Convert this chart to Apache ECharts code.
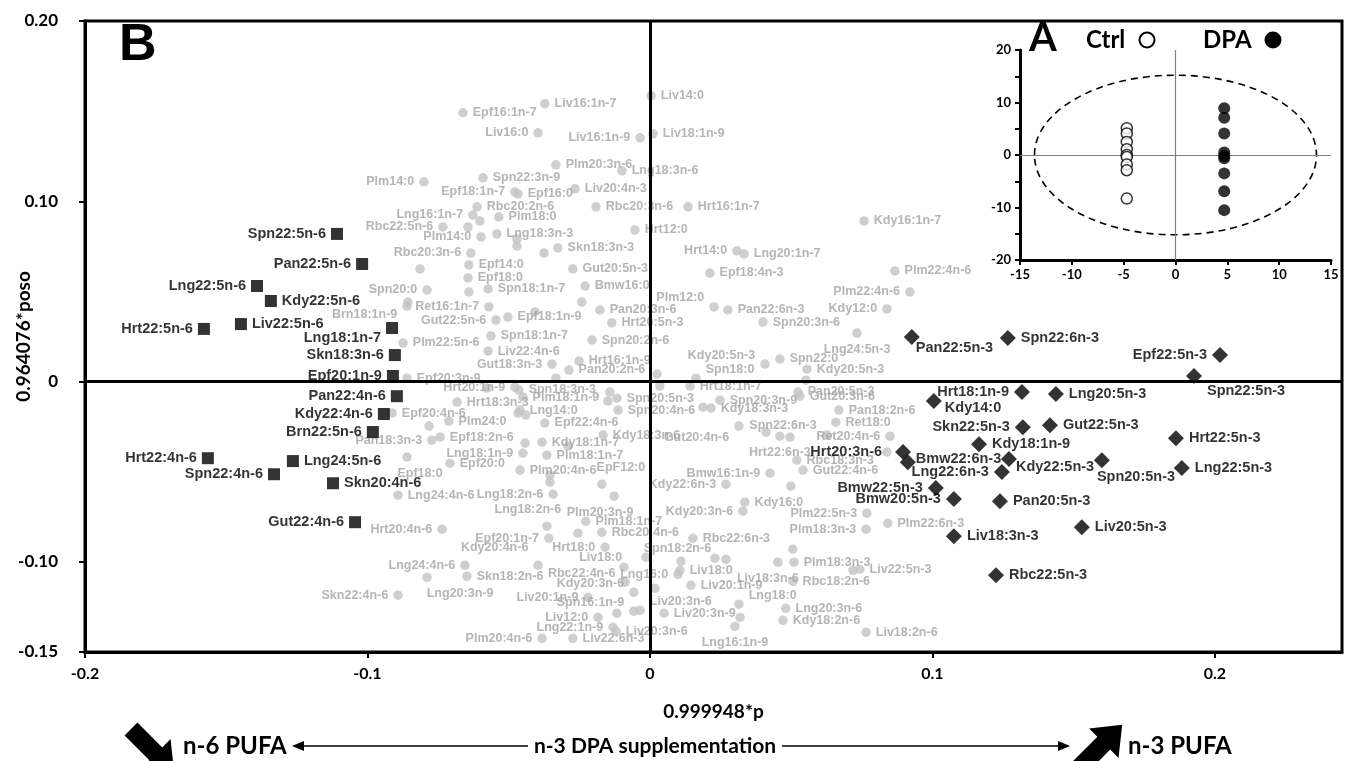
<!DOCTYPE html>
<html><head><meta charset="utf-8">
<script src="https://cdn.jsdelivr.net/npm/echarts@6/dist/echarts.min.js"></script>
<style>html,body{margin:0;padding:0;background:#fff}#c{width:1346px;height:761px}</style>
</head><body><div id="c"></div><script>
// ---------- main score/loading plot (B) ----------
const xTicks = [-0.2, -0.1, 0, 0.1, 0.2];
const xTickLabels = ['-0.2', '-0.1', '0', '0.1', '0.2'];
const yTicks = [-0.15, -0.1, 0, 0.1, 0.2];
const yTickLabels = ['-0.15', '-0.10', '0', '0.10', '0.20'];

// n-6 PUFA (squares)
const n6Names = ['Spn22:5n-6','Pan22:5n-6','Lng22:5n-6','Kdy22:5n-6','Hrt22:5n-6','Liv22:5n-6','Lng18:1n-7','Skn18:3n-6','Epf20:1n-9','Pan22:4n-6','Kdy22:4n-6','Brn22:5n-6','Hrt22:4n-6','Lng24:5n-6','Spn22:4n-6','Skn20:4n-6','Gut22:4n-6'];
const n6X = [-0.1108,-0.1019,-0.1391,-0.1342,-0.1579,-0.1448,-0.0913,-0.0903,-0.0910,-0.0896,-0.0942,-0.0981,-0.1565,-0.1264,-0.1331,-0.1122,-0.1044];
const n6Y = [0.0819,0.0652,0.0530,0.0447,0.0292,0.0319,0.0297,0.0147,0.0031,-0.0081,-0.0180,-0.0280,-0.0425,-0.0441,-0.0514,-0.0564,-0.0780];

// n-3 PUFA (diamonds)
const n3Names = ['Pan22:5n-3','Spn22:6n-3','Epf22:5n-3','Spn22:5n-3','Hrt18:1n-9','Lng20:5n-3','Kdy14:0','Skn22:5n-3','Gut22:5n-3','Hrt22:5n-3','Kdy18:1n-9','Hrt20:3n-6','Bmw22:6n-3','Kdy22:5n-3','Spn20:5n-3','Lng22:5n-3','Lng22:6n-3','Bmw22:5n-3','Bmw20:5n-3','Pan20:5n-3','Liv20:5n-3','Liv18:3n-3','Rbc22:5n-3'];
const n3X = [0.0927,0.1267,0.2018,0.1926,0.1317,0.1437,0.1005,0.1320,0.1416,0.1862,0.1165,0.0896,0.0913,0.1271,0.1600,0.1883,0.1246,0.1012,0.1076,0.1239,0.1529,0.1076,0.1225];
const n3Y = [0.0247,0.0242,0.0147,0.0031,-0.0058,-0.0069,-0.0108,-0.0253,-0.0242,-0.0314,-0.0347,-0.0391,-0.0447,-0.0430,-0.0436,-0.0480,-0.0502,-0.0591,-0.0652,-0.0664,-0.0808,-0.0858,-0.1074];

// other fatty acids (grey)
const grayNames = ['Liv14:0','Liv16:1n-7','Epf16:1n-7','Liv16:0','Liv16:1n-9','Liv18:1n-9','Plm20:3n-6','Lng18:3n-6','Plm14:0','Spn22:3n-9',
'Epf18:1n-7','Epf16:0','Liv20:4n-3','Rbc20:2n-6','Lng16:1n-7','','Plm18:0','Rbc20:3n-6','Rbc22:5n-6','',
'Plm14:0','Lng18:3n-3','','','Hrt12:0','Rbc20:3n-6','','Skn18:3n-3','Epf14:0','Gut20:5n-3',
'','Epf18:0','Spn20:0','Spn18:1n-7','Bmw16:0','','','Brn18:1n-9','Ret16:1n-7','',
'Pan20:3n-6','','Epf18:1n-9','Gut22:5n-6','Hrt20:5n-3','Spn18:1n-7','Plm22:5n-6','Spn20:2n-6','Liv22:4n-6','Hrt16:1n-9',
'Gut18:3n-3','Pan20:2n-6','','Epf20:3n-9','Hrt20:1n-9','','Spn18:3n-3','Hrt18:3n-3','Plm18:1n-9','Lng14:0',
'','','Spn20:5n-3','Spn20:4n-6','','','Epf20:4n-6','Plm24:0','','Epf22:4n-6',
'Epf18:2n-6','Pan18:3n-3','Kdy18:1n-7','Kdy18:3n-6','','','Lng18:1n-9','Plm18:1n-7','Epf18:0','Epf20:0',
'Plm20:4n-6','','','EpF12:0','Lng24:4n-6','Lng18:2n-6','Plm20:3n-9','Plm18:1n-7','Lng18:2n-6','Rbc20:4n-6',
'','Epf20:1n-7','Kdy20:4n-6','Hrt18:0','Hrt20:4n-6','Lng24:4n-6','Skn18:2n-6','Lng20:3n-9','Skn22:4n-6','Spn18:2n-6',
'Liv18:0','Rbc22:4n-6','Kdy20:3n-6','Lng16:0','Liv18:0','Liv20:1n-9','Spn16:1n-9','Liv20:3n-6','Liv12:0','Lng22:1n-9',
'Liv20:3n-6','Plm20:4n-6','Liv22:6n-3','Bmw16:1n-9','Gut22:4n-6','Rbc18:3n-3','Kdy22:6n-3','','Kdy16:0','Kdy20:3n-6',
'Plm22:5n-3','Plm22:6n-3','Plm18:3n-3','Rbc22:6n-3','','','','','Liv18:3n-6','Plm18:3n-3',
'Liv22:5n-3','','Rbc18:2n-6','','Liv20:1n-9','Lng18:0','Lng20:3n-6','Liv20:3n-9','','Kdy18:2n-6',
'Lng16:1n-9','Liv18:2n-6','Hrt18:1n-7','Spn20:3n-9','Kdy18:3n-3','','Gut20:4n-6','Spn22:6n-3','Hrt22:6n-3','',
'Pan18:2n-6','Ret18:0','','Ret20:4n-6','','Pan20:5n-3','Gut20:3n-6','Kdy20:5n-3','','Spn22:0',
'Kdy20:5n-3','Spn18:0','','','Lng24:5n-3','Spn20:3n-6','Pan22:6n-3','Plm12:0','Kdy12:0','Plm22:4n-6',
'Plm22:4n-6','Epf18:4n-3','Hrt14:0','Lng20:1n-7','Kdy16:1n-7','Hrt16:1n-7',''];
const grayX = [0.0004,-0.0372,-0.0662,-0.0396,-0.0035,0.0011,-0.0333,-0.0099,-0.0800,-0.0591,
-0.0478,-0.0467,-0.0265,-0.0612,-0.0627,-0.0602,-0.0535,-0.0191,-0.0733,-0.0644,
-0.0598,-0.0542,-0.0471,-0.0471,-0.0053,-0.0634,-0.0375,-0.0326,-0.0641,-0.0273,
-0.0814,-0.0644,-0.0789,-0.0573,-0.0230,-0.0641,-0.0857,-0.0860,-0.0570,-0.0241,
-0.0177,-0.0407,-0.0503,-0.0545,-0.0135,-0.0563,-0.0874,-0.0205,-0.0573,-0.0251,
-0.0347,-0.0287,-0.0333,-0.0860,-0.0478,-0.0577,-0.0464,-0.0683,-0.0450,-0.0460,
-0.0439,-0.0467,-0.0117,-0.0113,-0.0142,-0.0149,-0.0913,-0.0712,-0.0782,-0.0372,
-0.0743,-0.0772,-0.0382,-0.0166,-0.0442,-0.0290,-0.0450,-0.0365,-0.0860,-0.0708,
-0.0460,-0.0354,-0.0354,-0.0170,-0.0892,-0.0343,-0.0127,-0.0227,-0.0365,-0.0170,
-0.0255,-0.0358,-0.0396,-0.0159,-0.0736,-0.0655,-0.0648,-0.0789,-0.0892,-0.0014,
-0.0092,-0.0088,-0.0057,0.0099,0.0106,-0.0219,-0.0057,-0.0035,-0.0184,-0.0131,
-0.0120,-0.0382,-0.0273,0.0425,0.0542,0.0520,0.0269,0.0499,0.0336,0.0329,
0.0768,0.0842,0.0765,0.0152,0.0506,0.0110,0.0230,0.0269,0.0453,0.0510,
0.0743,0.0719,0.0506,0.0018,0.0145,0.0315,0.0481,0.0050,0.0319,0.0471,
0.0301,0.0765,0.0142,0.0248,0.0216,0.0188,0.0315,0.0411,0.0460,0.0496,
0.0669,0.0658,0.0627,0.0850,0.0839,0.0524,0.0531,0.0556,0.0552,0.0460,
0.0407,0.0163,0.0025,0.0035,0.0733,0.0400,0.0276,0.0227,0.0839,0.0920,
0.0867,0.0212,0.0308,0.0333,0.0758,0.0135,-0.0117];
const grayY = [0.1585,0.1541,0.1491,0.1380,0.1352,0.1374,0.1202,0.1169,0.1108,0.1130,
0.1052,0.1041,0.1069,0.0969,0.0924,0.0891,0.0913,0.0969,0.0858,0.0858,
0.0802,0.0819,0.0791,0.0752,0.0841,0.0713,0.0713,0.0741,0.0647,0.0625,
0.0625,0.0575,0.0508,0.0514,0.0530,0.0497,0.0441,0.0419,0.0414,0.0441,
0.0397,0.0386,0.0358,0.0341,0.0325,0.0253,0.0214,0.0230,0.0169,0.0114,
0.0097,0.0064,0.0019,0.0019,-0.0031,-0.0036,-0.0047,-0.0114,-0.0086,-0.0158,
-0.0186,-0.0175,-0.0092,-0.0158,-0.0058,-0.0108,-0.0175,-0.0219,-0.0247,-0.0230,
-0.0308,-0.0325,-0.0336,-0.0297,-0.0341,-0.0358,-0.0397,-0.0408,-0.0419,-0.0453,
-0.0491,-0.0519,-0.0558,-0.0569,-0.0630,-0.0625,-0.0636,-0.0775,-0.0802,-0.0836,
-0.0841,-0.0869,-0.1019,-0.0919,-0.0819,-0.1019,-0.1080,-0.1086,-0.1185,-0.0974,
-0.1030,-0.1113,-0.1169,-0.1069,-0.1047,-0.1197,-0.1274,-0.1269,-0.1308,-0.1363,
-0.1385,-0.1424,-0.1424,-0.0508,-0.0491,-0.0436,-0.0569,-0.0580,-0.0669,-0.0719,
-0.0730,-0.0786,-0.0819,-0.0869,-0.0930,-0.0997,-0.0980,-0.0986,-0.1002,-0.1002,
-0.1041,-0.1047,-0.1108,-0.1147,-0.1130,-0.1235,-0.1258,-0.1285,-0.1308,-0.1324,
-0.1358,-0.1391,-0.0025,-0.0103,-0.0147,-0.0142,-0.0247,-0.0280,-0.0303,-0.0308,
-0.0158,-0.0225,-0.0297,-0.0303,-0.0391,-0.0058,-0.0081,0.0069,0.0008,0.0125,
0.0097,0.0019,0.0042,-0.0025,0.0269,0.0330,0.0397,0.0414,0.0403,0.0497,
0.0614,0.0602,0.0725,0.0708,0.0891,0.0969,-0.1285];

// ---------- inset (A): PCA score plot ----------
const ctrlX = [-4.7,-4.7,-4.7,-4.7,-4.7,-4.7,-4.7,-4.7,-4.7];
const ctrlY = [5.1,4.1,2.5,1.1,0.0,-0.4,-1.8,-2.9,-8.3];
const dpaX = [4.7,4.7,4.7,4.7,4.7,4.7,4.7,4.7,4.7];
const dpaY = [8.9,7.1,4.1,0.5,-0.2,-0.6,-3.5,-6.9,-10.5];
const ellipseSemiAxes = [13.6, 15.2];

// ---------- label placement (layout only) ----------
const n6Place = ['l','l','l','r','l','r',['left',0,10],'l','l','l','l','l','l','r','l','r','l'];
const n3Place = [['right',-9,11],'r','l',['right',0,15],'l','r',['right',-2,7],'l','r','r','r',['left',-8,0],['right',-5,-3],['right',-6,8],['right',-18,17],'r','l','l','l','r','r','r','r'];
const grayPlace = ['r','r','r','l','l','r','r','r','l','r',
'l','r','r','r','l','','r','r','l','',
'l','r','','','r','l','','r','r','r',
'','r','l','r','r','','',['left',0,9],'l','',
'r','','r','l','r','r','r','r','r','r',
'l','r','','r','l','','r','r','r','r',
'','','r','r','','','r','r','','r',
'r','l','r','r','','','l','r',['bottom',13,0],'r',
'r','','',['top',19,0],'r','l',['bottom',-14,0],'r',['top',-19,0],'r',
'',  'l',['left',0,-18],'l','l','l','r',['bottom',33,0],'l',['right',-12,-9],
['left',8,-10],'tl','tl','l','r','l','tl','tr','l','l',
'r','l','r','l','r','r','l','','r','l',
'l','r','l','r','','','','',['bottom',-10,0],'r',
'r','','r','','r','tr','r','r','','r',
'b','r','r','r','r','','bl',['top',17,10],'b','',
'r','r','','l','','r','r','r','','r',
'tl','tr','','','b','r','r','tl','l','l',
'r','r','l','r','r','r',''];

function place(p) {
  const m = {r:['right',0,0], l:['left',0,0], t:['top',0,0], b:['bottom',0,0],
             tr:['right',0,-9], br:['right',0,9], tl:['left',0,-9], bl:['left',0,11]};
  return Array.isArray(p) ? p : (m[p] || ['right',0,0]);
}
function build(names, xs, ys, places) {
  return names.map((n, i) => {
    const p = place(places[i]);
    return {name: n, value: [xs[i], ys[i]],
            label: n ? {show: true, position: p[0], offset: [p[1], p[2]]} : {show: false}};
  });
}
function tickLabel(vals, labels) {
  return v => { const i = vals.findIndex(t => Math.abs(t - v) < 1e-9); return i >= 0 ? labels[i] : ''; };
}

const chart = echarts.init(document.getElementById('c'), null, {renderer: 'canvas'});
const AX = 'Lato, "Liberation Sans", sans-serif';
const PT = '"Liberation Sans", Arial, sans-serif';

const option = {
  animation: false,
  backgroundColor: '#fff',
  grid: [
    {left: 85, right: 4, top: 21, bottom: 109, show: true, borderColor: '#000', borderWidth: 3,
     backgroundColor: 'transparent', containLabel: false, outerBoundsMode: 'none'},
    {left: 1020, right: 15, top: 50, bottom: 501, show: false, containLabel: false, outerBoundsMode: 'none'}
  ],
  xAxis: [
    {gridIndex: 0, type: 'value', min: -0.2, max: 0.245,
     name: '0.999948*p', nameLocation: 'middle', nameGap: 50, nameMoveOverlap: false,
     nameTextStyle: {fontFamily: AX, fontWeight: 'bold', fontSize: 19, color: '#000'},
     axisLine: {show: true, onZero: false, lineStyle: {color: '#000', width: 3}},
     axisTick: {show: true, inside: false, length: 6, lineStyle: {color: '#000', width: 2}, customValues: xTicks},
     axisLabel: {customValues: xTicks, formatter: tickLabel(xTicks, xTickLabels), margin: 14,
                 fontFamily: AX, fontWeight: 'bold', fontSize: 16, color: '#000'},
     splitLine: {show: false}},
    {gridIndex: 1, type: 'value', min: -15, max: 15, interval: 5,
     axisLine: {show: true, onZero: false, lineStyle: {color: '#000', width: 3}},
     axisTick: {show: true, length: 5, lineStyle: {color: '#000', width: 2}},
     axisLabel: {margin: 8, fontFamily: AX, fontWeight: 'bold', fontSize: 13, color: '#000'},
     splitLine: {show: false}}
  ],
  yAxis: [
    {gridIndex: 0, type: 'value', min: -0.15, max: 0.2,
     name: '0.964076*poso', nameLocation: 'middle', nameGap: 52, nameRotate: 90, nameMoveOverlap: false,
     nameTextStyle: {fontFamily: AX, fontWeight: 'bold', fontSize: 19, color: '#000'},
     axisLine: {show: true, onZero: false, lineStyle: {color: '#000', width: 3}},
     axisTick: {show: true, inside: false, length: 6, lineStyle: {color: '#000', width: 2}, customValues: yTicks},
     axisLabel: {customValues: yTicks, formatter: tickLabel(yTicks, yTickLabels), margin: 27,
                 fontFamily: AX, fontWeight: 'bold', fontSize: 17, color: '#000'},
     splitLine: {show: false}},
    {gridIndex: 1, type: 'value', min: -20, max: 20, interval: 5,
     axisLine: {show: true, onZero: false, lineStyle: {color: '#000', width: 3}},
     axisTick: {show: true, length: 5, lineStyle: {color: '#000', width: 2}},
     axisLabel: {margin: 9, fontFamily: AX, fontWeight: 'bold', fontSize: 13, color: '#000',
                 formatter: v => (Math.round(v) % 10 === 0 ? String(v) : '')},
     splitLine: {show: false}}
  ],
  series: [
    {type: 'scatter', name: 'other', xAxisIndex: 0, yAxisIndex: 0, z: 2,
     symbol: 'circle', symbolSize: 9.5, itemStyle: {color: '#c3c3c3'},
     label: {formatter: '{b}', distance: 5, fontFamily: PT, fontWeight: 'bold', fontSize: 12.5, color: '#a3a3a3'},
     data: build(grayNames, grayX, grayY, grayPlace),
     markLine: {silent: true, symbol: ['none', 'none'], label: {show: false},
                lineStyle: {color: '#000', width: 3, type: 'solid'},
                data: [{xAxis: 0}, {yAxis: 0}]}},
    {type: 'scatter', name: 'n-6', xAxisIndex: 0, yAxisIndex: 0, z: 4,
     symbol: 'rect', symbolSize: 12, itemStyle: {color: '#000'},
     label: {formatter: '{b}', distance: 5, fontFamily: PT, fontWeight: 'bold', fontSize: 14.5, color: '#000'},
     data: build(n6Names, n6X, n6Y, n6Place)},
    {type: 'scatter', name: 'n-3', xAxisIndex: 0, yAxisIndex: 0, z: 4,
     symbol: 'diamond', symbolSize: 16, itemStyle: {color: '#000'},
     label: {formatter: '{b}', distance: 5, fontFamily: PT, fontWeight: 'bold', fontSize: 14.5, color: '#000'},
     data: build(n3Names, n3X, n3Y, n3Place)},
    {type: 'scatter', name: 'Ctrl', xAxisIndex: 1, yAxisIndex: 1, z: 5,
     symbol: 'circle', symbolSize: 11, itemStyle: {color: '#fff', borderColor: '#000', borderWidth: 1.5},
     data: ctrlX.map((x, i) => [x, ctrlY[i]]),
     markLine: {silent: true, symbol: ['none', 'none'], label: {show: false},
                lineStyle: {color: '#808080', width: 1.2, type: 'solid'},
                data: [{xAxis: 0}, {yAxis: 0}]}},
    {type: 'scatter', name: 'DPA', xAxisIndex: 1, yAxisIndex: 1, z: 5,
     symbol: 'circle', symbolSize: 12, itemStyle: {color: '#000'},
     data: dpaX.map((x, i) => [x, dpaY[i]])}
  ]
};
chart.setOption(option);

// confidence ellipse of the inset, placed through the inset's own scales
const c0 = chart.convertToPixel({xAxisIndex: 1, yAxisIndex: 1}, [0, 0]);
const c1 = chart.convertToPixel({xAxisIndex: 1, yAxisIndex: 1}, ellipseSemiAxes);
const bigArrow = [[0,-7],[27,-7],[27,-16],[47,0],[27,16],[27,7],[0,7]];
const txt = (x, y, s, size, align, font) => ({type: 'text', x: x, y: y, z: 50,
  style: {text: s, fontFamily: font || AX, fontWeight: 'bold', fontSize: size, fill: '#000', align: align || 'left', verticalAlign: 'middle'}});
chart.setOption({graphic: [
  {type: 'ellipse', z: 3, shape: {cx: c0[0], cy: c0[1], rx: c1[0] - c0[0], ry: c0[1] - c1[1]},
   style: {fill: 'none', stroke: '#000', lineWidth: 1.6, lineDash: [7, 5]}},
  txt(119, 46, 'B', 52, 'left', PT),
  txt(1029, 38, 'A', 40),
  txt(1086, 40, 'Ctrl', 24),
  {type: 'circle', z: 50, shape: {cx: 1147, cy: 40, r: 7.5}, style: {fill: '#fff', stroke: '#000', lineWidth: 2}},
  txt(1203, 40, 'DPA', 24),
  {type: 'circle', z: 50, shape: {cx: 1273, cy: 40, r: 8.5}, style: {fill: '#000'}},
  // bottom annotation
  {type: 'polygon', z: 50, x: 131, y: 729, rotation: -Math.PI / 4, scale: [1.3, 1.3], shape: {points: bigArrow}, style: {fill: '#000'}},
  txt(183, 746, 'n-6 PUFA', 24),
  {type: 'line', z: 50, shape: {x1: 528, y1: 746, x2: 300, y2: 746}, style: {stroke: '#000', lineWidth: 1.5}},
  {type: 'polygon', z: 50, shape: {points: [[292, 746], [304, 741], [304, 751]]}, style: {fill: '#000'}},
  txt(655, 746, 'n-3 DPA supplementation', 21, 'center'),
  {type: 'line', z: 50, shape: {x1: 782, y1: 746, x2: 1062, y2: 746}, style: {stroke: '#000', lineWidth: 1.5}},
  {type: 'polygon', z: 50, shape: {points: [[1070, 746], [1058, 741], [1058, 751]]}, style: {fill: '#000'}},
  {type: 'polygon', z: 50, x: 1079, y: 768, rotation: Math.PI / 4, scale: [1.3, 1.3], shape: {points: bigArrow}, style: {fill: '#000'}},
  txt(1128, 746, 'n-3 PUFA', 24)
]});
</script></body></html>
